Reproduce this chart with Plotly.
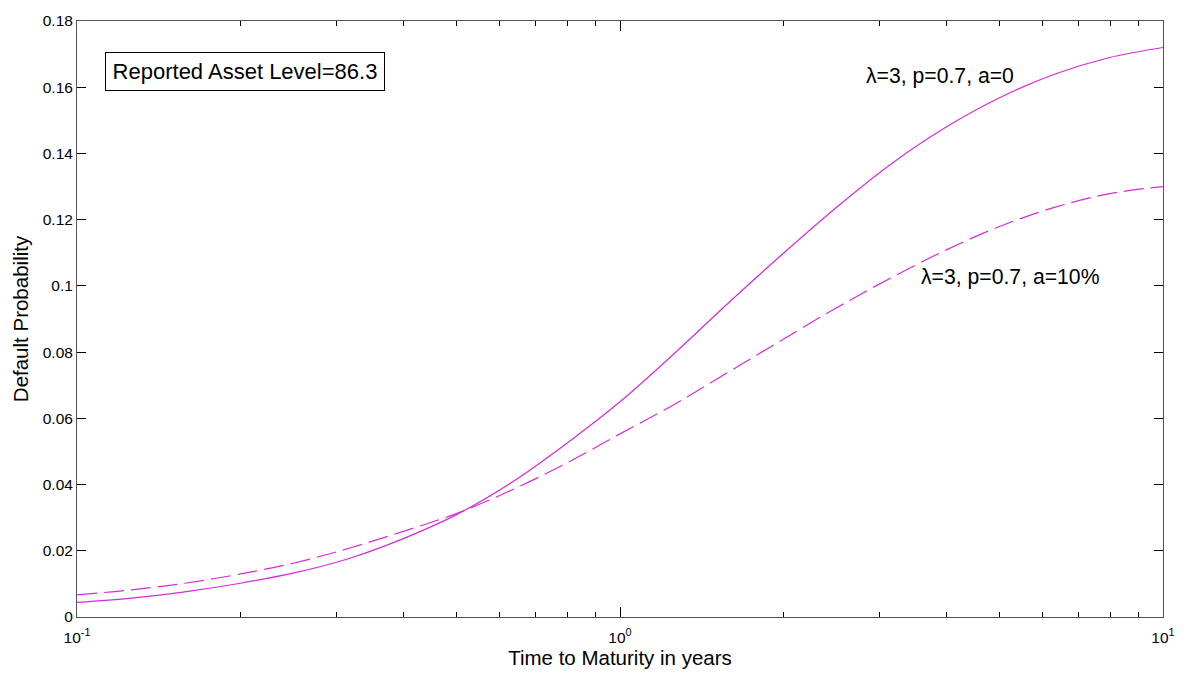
import plotly.graph_objects as go

# Data (time to maturity, log-spaced readings)
t_grid = [0.1, 0.126, 0.158, 0.2, 0.251, 0.316, 0.398, 0.501, 0.631, 0.794, 1.0,
          1.259, 1.585, 1.995, 2.512, 3.162, 3.981, 5.012, 6.31, 7.943, 10.0]
p_solid = [0.0044, 0.0057, 0.0076, 0.0102, 0.0133, 0.0176, 0.0236, 0.0310, 0.0406, 0.0522, 0.0650,
           0.0796, 0.0949, 0.1097, 0.1239, 0.1369, 0.1479, 0.1569, 0.1639, 0.1689, 0.1720]
p_dash = [0.0067, 0.0082, 0.0102, 0.0130, 0.0163, 0.0207, 0.0258, 0.0313, 0.0383, 0.0463, 0.0553,
          0.0642, 0.0740, 0.0838, 0.0935, 0.1025, 0.1108, 0.1180, 0.1237, 0.1278, 0.1300]

x_major = [0.1, 1, 10]
x_major_text = ["10<sup>-1</sup>", "10<sup>0</sup>", "10<sup>1</sup>"]
x_minor = [0.2, 0.3, 0.4, 0.5, 0.6, 0.7, 0.8, 0.9, 2, 3, 4, 5, 6, 7, 8, 9]
y_ticks = [0, 0.02, 0.04, 0.06, 0.08, 0.1, 0.12, 0.14, 0.16, 0.18]
y_text = ["0", "0.02", "0.04", "0.06", "0.08", "0.1", "0.12", "0.14", "0.16", "0.18"]

line_color = "#D52BD5"
font_family = "Liberation Sans, Arial, sans-serif"

fig = go.Figure()
fig.add_trace(go.Scatter(x=t_grid, y=p_solid, mode="lines", line_shape="spline",
                         line=dict(color=line_color, width=1.2, smoothing=1.0), showlegend=False))
fig.add_trace(go.Scatter(x=t_grid, y=p_dash, mode="lines", line_shape="spline",
                         line=dict(color=line_color, width=1.2, dash="20px,7px", smoothing=1.0),
                         showlegend=False))

axis_common = dict(showgrid=False, zeroline=False, showline=True, linecolor="#555555",
                   linewidth=1, mirror="allticks", ticks="inside", tickcolor="black",
                   tickfont=dict(family=font_family, size=15.5, color="black"))

fig.update_xaxes(type="log", range=[-1, 1], tickvals=x_major, ticktext=x_major_text,
                 ticklen=10, ticklabelstandoff=6,
                 minor=dict(tickvals=x_minor, ticks="inside", ticklen=5, tickcolor="black"),
                 title=dict(text="Time to Maturity in years", standoff=6,
                            font=dict(family=font_family, size=20.5, color="black")),
                 **axis_common)
fig.update_yaxes(range=[0, 0.18], tickvals=y_ticks, ticktext=y_text, ticklen=9,
                 title=dict(text="Default Probability", standoff=8,
                            font=dict(family=font_family, size=20.5, color="black")),
                 **axis_common)

fig.add_annotation(xref="paper", yref="paper", x=0.0257, y=0.948, xanchor="left", yanchor="top",
                   text="Reported Asset Level=86.3", showarrow=False,
                   font=dict(family=font_family, size=22, color="black"),
                   width=266, height=25, borderpad=6,
                   bordercolor="black", borderwidth=1, bgcolor="white")
fig.add_annotation(xref="paper", yref="paper", x=0.7245, y=0.907, xanchor="left", yanchor="middle",
                   text="λ=3, p=0.7, a=0", showarrow=False,
                   font=dict(family=font_family, size=21.2, color="black"))
fig.add_annotation(xref="paper", yref="paper", x=0.775, y=0.571, xanchor="left", yanchor="middle",
                   text="λ=3, p=0.7, a=10%", showarrow=False,
                   font=dict(family=font_family, size=21.2, color="black"))

fig.update_layout(width=1187, height=679, margin=dict(l=77, r=21, t=16, b=62),
                  plot_bgcolor="white", paper_bgcolor="white",
                  font=dict(family=font_family, color="black"))

fig.write_html("out.html")
